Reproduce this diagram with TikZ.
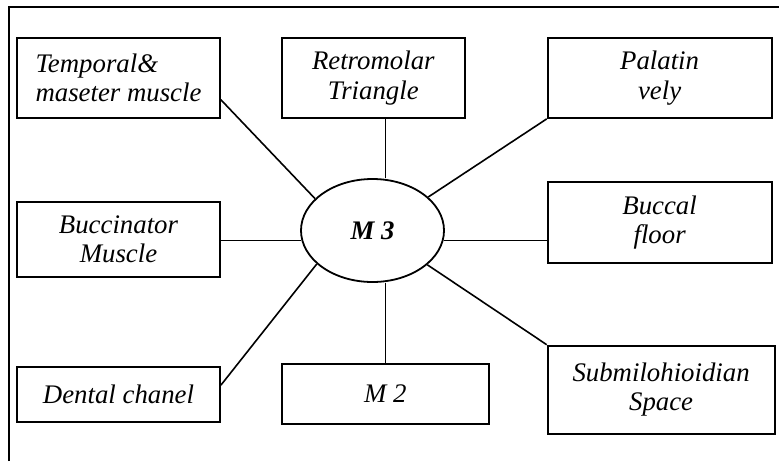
\documentclass[tikz,border=0pt]{standalone}
\usepackage{fontspec}
\setmainfont{Liberation Serif}
\usetikzlibrary{calc, positioning, shapes.geometric}

\begin{document}
\begin{tikzpicture}[x=0.5pt, y=-0.5pt, font=\fontsize{13.4}{14.6}\selectfont\itshape,
    blk/.style={draw, line width=0.9pt, inner sep=0pt, align=center},
    link/.style={line width=0.8pt}]
    \useasboundingbox (0,0) rectangle (779,461);
    \draw[line width=0.7pt] (9,461) -- (9,7) -- (779,7);

    \node[blk, minimum width=101.5pt, minimum height=40pt, align=left] at (118.5,78)
                               (temporal) {Temporal\&\\maseter muscle};
    \node[blk, minimum width=91.5pt, minimum height=40pt, right=30pt of temporal]
                               (retro)    {Retromolar\\Triangle};
    \node[blk, minimum width=112pt, minimum height=40pt, right=40.5pt of retro]
                               (palatin)  {Palatin\\vely};
    \node[blk, minimum width=101.5pt, minimum height=37.5pt, below=41pt of temporal]
                               (bucc)     {Buccinator\\Muscle};
    \node[blk, minimum width=112pt, minimum height=40.5pt, below=31pt of palatin]
                               (buccal)   {Buccal\\floor};
    \node[blk, minimum width=101.5pt, minimum height=27.5pt, below=44pt of bucc]
                               (dental)   {Dental chanel};
    \node[blk, minimum width=103.5pt, minimum height=30pt, right=30pt of dental]
                               (mtwo)     {M 2};
    \node[blk, minimum width=113.5pt, minimum height=44pt,
          below=40.5pt of buccal.south west, anchor=north west]
                               (sub)      {Submilohioidian\\Space};
    \node[draw, ellipse, line width=0.9pt, minimum width=71.5pt, minimum height=51.5pt,
          font=\fontsize{13.4}{14.6}\selectfont\itshape\bfseries] at (372.5,230.5)
                               (mthree)   {M 3};

    \draw[link] (temporal.-12) -- (mthree.151);
    \draw[link] (retro.south -| mtwo.north) -- (mthree.north -| mtwo.north);
    \draw[link] (palatin.south west) -- (mthree.31);
    \draw[link] (bucc.east |- mthree.188) -- (mthree.188);
    \draw[link] (mthree.-8.5) -- (mthree.-8.5 -| buccal.west);
    \draw[link] (dental.5) -- (mthree.211);
    \draw[link] (mtwo.north) -- (mthree.south -| mtwo.north);
    \draw[link] (mthree.328) -- (sub.north west);
  \end{tikzpicture}
\end{document}
